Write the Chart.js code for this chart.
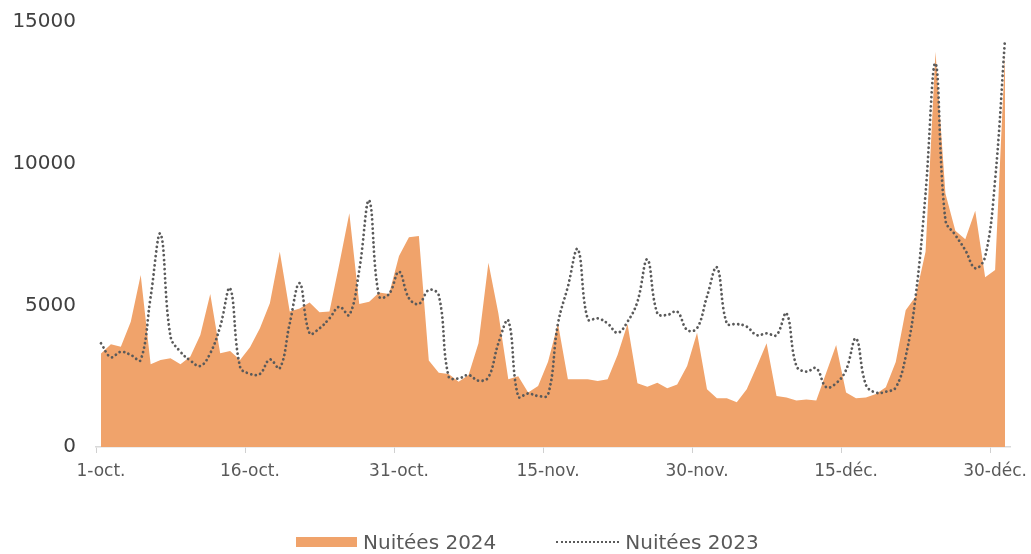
<!DOCTYPE html>
<html>
<head>
<meta charset="utf-8">
<script src="https://cdn.jsdelivr.net/npm/chart.js@4"></script>
<style>
  html, body { margin: 0; padding: 0; background: #fff; }
  #wrap { position: relative; width: 1031px; height: 554px; }
  #legend {
    position: absolute; left: 296px; top: 528px; height: 28px;
    display: flex; align-items: center;
    font-family: 'DejaVu Sans', 'Noto Sans', sans-serif; font-size: 20px; color: #595959;
  }
  .item { display: flex; align-items: center; }
  .item + .item { margin-left: 60px; }
  .swatch { width: 61px; height: 10px; margin-right: 6px; }
  .dotline { width: 63px; height: 0; border-top: 2.5px dotted #5a5a5a; margin-right: 6px; }
</style>
</head>
<body>
<div id="wrap">
  <canvas id="chart"></canvas>
  <div id="legend"></div>
</div>
<script>
// months shown on the axis, with their number of days
const months = ["oct.", "nov.", "déc."];
const monthDays = [31, 30, 31];

const nuitees2024 = [
  3300, 3630, 3540, 4420, 6070, 2920, 3070, 3130, 2920, 3190,
  3950, 5400, 3310, 3390, 3070, 3520, 4190, 5070, 6890, 4780,
  4890, 5100, 4760, 4780, 6480, 8250, 5050, 5130, 5450, 5400,
  6740, 7400, 7450, 3050, 2620, 2580, 2300, 2540, 3660, 6500,
  4720, 2390, 2500, 1920, 2150, 3010, 4360, 2390, 2390, 2390,
  2330, 2390, 3250, 4340, 2250, 2130, 2270, 2070, 2210, 2860,
  4030, 2040, 1720, 1720, 1580, 2040, 2830, 3660, 1800, 1750,
  1640, 1680, 1640, 2620, 3600, 1920, 1720, 1750, 1870, 2110,
  3000, 4830, 5310, 6890, 13950, 8950, 7630, 7330, 8340, 5990,
  6250, 13900
];

const nuitees2023 = [
  3660, 3170, 3360, 3250, 3070, 5300, 7520, 3900, 3360, 3050,
  2860, 3310, 4250, 5600, 2830, 2580, 2580, 3090, 2780, 4360,
  5780, 4010, 4190, 4540, 4950, 4660, 6250, 8700, 5310, 5400,
  6190, 5250, 5050, 5540, 5360, 2480, 2420, 2540, 2340, 2460,
  3660, 4460, 1780, 1890, 1800, 1840, 4360, 5660, 6980, 4510,
  4540, 4360, 4030, 4420, 5130, 6620, 4720, 4660, 4780, 4130,
  4190, 5310, 6340, 4360, 4340, 4250, 3950, 4010, 3950, 4720,
  2860, 2660, 2780, 2110, 2250, 2720, 3830, 2190, 1920, 1950,
  2100, 3190, 5310, 8950, 13540, 8010, 7480, 6950, 6310, 6720,
  9420, 14400
];

const yTicks = [0, 5000, 10000, 15000];

const labels = [];
months.forEach((m, k) => {
  for (let d = 1; d <= monthDays[k]; d++) labels.push(d + "-" + m);
});

const FONT = "'DejaVu Sans', 'Noto Sans', sans-serif";
const ORANGE = "#F0A36B";
const DOTS = "#5a5a5a";

const chart = new Chart(document.getElementById("chart"), {
  type: "line",
  data: {
    labels: labels,
    datasets: [
      {
        label: "Nuitées 2024",
        data: nuitees2024,
        backgroundColor: ORANGE,
        borderColor: ORANGE,
        borderWidth: 0,
        fill: "origin",
        pointRadius: 0,
        tension: 0,
        order: 2
      },
      {
        label: "Nuitées 2023",
        data: nuitees2023,
        borderColor: DOTS,
        backgroundColor: DOTS,
        borderWidth: 2.8,
        borderDash: [0.01, 4.6],
        borderCapStyle: "round",
        fill: false,
        pointRadius: 0,
        tension: 0.4,
        order: 1
      }
    ]
  },
  options: {
    responsive: true,
    maintainAspectRatio: false,
    animation: false,
    layout: { padding: { top: 22, right: 21, bottom: 67, left: 0 } },
    plugins: {
      tooltip: { enabled: false },
      legend: { display: false }
    },
    scales: {
      x: {
        offset: true,
        afterFit: (scale) => { scale.height = 40; },
        grid: {
          offset: true,
          drawOnChartArea: false,
          drawTicks: true,
          tickLength: 6,
          color: (ctx) => (ctx.index % 15 === 0 ? "#d0d0d0" : "transparent")
        },
        border: { display: true, color: "#d9d9d9", width: 1.5 },
        ticks: {
          autoSkip: false,
          maxRotation: 0,
          padding: 8,
          color: "#595959",
          font: { family: FONT, size: 17 },
          callback: (v, i) => (i % 15 === 0 ? labels[i] : "")
        }
      },
      y: {
        min: 0,
        max: 15000,
        afterFit: (scale) => {
          scale.width = 96;
          scale.paddingTop = 0;
          scale.paddingBottom = 0;
        },
        afterBuildTicks: (scale) => { scale.ticks = yTicks.map(v => ({ value: v })); },
        grid: { display: false, drawTicks: false },
        border: { display: false },
        ticks: {
          padding: 20,
          color: "#404040",
          font: { family: FONT, size: 20 },
          callback: (v) => String(v)
        }
      }
    }
  }
});

// legend built from the dataset labels
const legend = document.getElementById("legend");
chart.data.datasets.forEach((ds, i) => {
  const item = document.createElement("div");
  item.className = "item";
  const mark = document.createElement("span");
  if (i === 0) {
    mark.className = "swatch";
    mark.style.background = ds.backgroundColor;
  } else {
    mark.className = "dotline";
  }
  const txt = document.createElement("span");
  txt.textContent = ds.label;
  item.appendChild(mark);
  item.appendChild(txt);
  legend.appendChild(item);
});
</script>
</body>
</html>
